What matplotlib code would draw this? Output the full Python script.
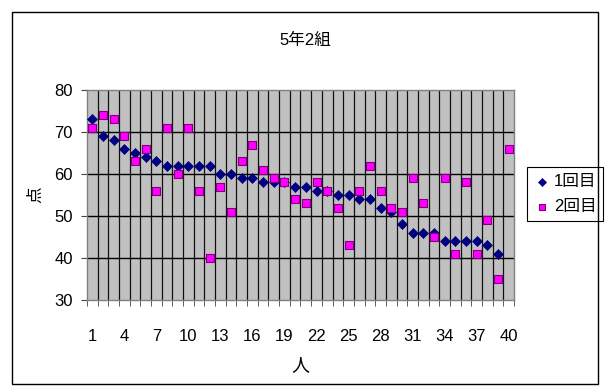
import numpy as np
import matplotlib
matplotlib.use("Agg")
import matplotlib.pyplot as plt
from matplotlib.patches import Rectangle

plt.rcParams['font.family'] = ['Liberation Sans', 'Noto Sans CJK JP']

title = "5年2組"
series_names = ["1回目", "2回目"]
x_label = "人"
y_label = "点"

students = list(range(1, 41))
first = [73, 69, 68, 66, 65, 64, 63, 62, 62, 62,
         62, 62, 60, 60, 59, 59, 58, 58, 58, 57,
         57, 56, 56, 55, 55, 54, 54, 52, 51, 48,
         46, 46, 46, 44, 44, 44, 44, 43, 41, np.nan]
second = [71, 74, 73, 69, 63, 66, 56, 71, 60, 71,
          56, 40, 57, 51, 63, 67, 61, 59, 58, 54,
          53, 58, 56, 52, 43, 56, 62, 56, 52, 51,
          59, 53, 45, 59, 41, 58, 41, 49, 35, 66]
x_ticks = list(range(1, 41, 3))
y_ticks = [30, 40, 50, 60, 70, 80]

W, H = 612, 392
fig = plt.figure(figsize=(W / 100, H / 100), dpi=100)

# outer chart frame
fig.patches.append(Rectangle((12 / W, 1 - 384 / H), (598 - 12) / W, (384 - 12) / H,
                             transform=fig.transFigure, fill=False,
                             edgecolor='black', linewidth=1.0))

ax = fig.add_axes([87 / W, 1 - 300 / H, (514 - 87) / W, (300 - 90) / H])
ax.set_facecolor('#C0C0C0')
for s in ax.spines.values():
    s.set_color('#808080')
    s.set_linewidth(1.0)

ax.set_xlim(0.5, 40.5)
ax.set_ylim(30, 80)

# category boundaries and value gridlines
for b in np.arange(1.5, 40.5, 1.0):
    ax.axvline(b, color='#111111', linewidth=0.9, zorder=1)
for yv in y_ticks[1:-1]:
    ax.axhline(yv, color='black', linewidth=1.0, zorder=1)

ax.scatter(students, first, marker='D', s=26, color='#000080',
           edgecolors='#000080', linewidths=0.5, zorder=3, label=series_names[0])
ax.scatter(students, second, marker='s', s=34, color='#FF00FF',
           edgecolors='#800080', linewidths=0.8, zorder=4, label=series_names[1])

ax.set_yticks(y_ticks)
ax.set_xticks(x_ticks)
ax.set_xticks(np.arange(0.5, 41, 1.0), minor=True)
ax.tick_params(axis='x', which='major', length=0, pad=21, labelsize=12)
ax.tick_params(axis='x', which='minor', length=4, color='#444444', direction='out')
ax.tick_params(axis='y', which='major', length=4, color='#444444', labelsize=12, pad=6)

fig.text(305 / W, 1 - 40 / H, title, fontsize=12, ha='center', va='center')
fig.text(300 / W, 1 - 366 / H, x_label, fontsize=13, ha='center', va='center')
fig.text(36 / W, 1 - 195 / H, y_label, fontsize=12, ha='center', va='center', rotation=90)

leg = ax.legend(loc='center left', bbox_to_anchor=(527 / W, 1 - 194 / H),
                bbox_transform=fig.transFigure, frameon=True, fancybox=False,
                edgecolor='black', framealpha=1, fontsize=12, handletextpad=0.2,
                borderpad=0.4, labelspacing=0.6, handlelength=1.0, borderaxespad=0,
                markerscale=0.8)
leg.get_frame().set_linewidth(0.8)

fig.savefig("out.png", dpi=100)
